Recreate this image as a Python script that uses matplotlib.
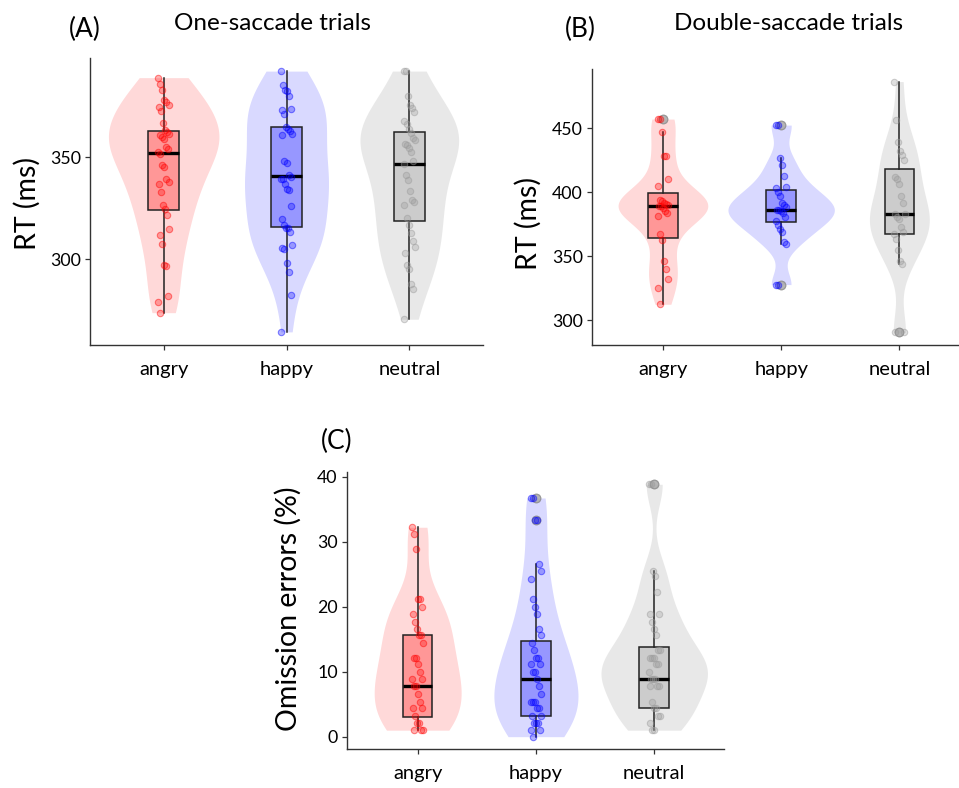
import numpy as np
import matplotlib
matplotlib.use("Agg")
import matplotlib.pyplot as plt

plt.rcParams['font.family'] = ['Lato', 'DejaVu Sans']

categories = ["angry", "happy", "neutral"]

# ---------------- Panel A: One-saccade trials (RT, ms) ----------------
a_angry = [388.8, 385.8, 382.6, 377.7, 376.9, 375.2, 374.4, 372.3, 366.6, 363.0, 362.2, 361.4,
           360.6, 359.8, 359.0, 354.9, 354.1, 352.4, 351.6, 345.9, 345.1, 339.4, 337.8, 337.0,
           332.9, 326.4, 324.8, 321.8, 315.0, 311.7, 307.3, 297.1, 296.6, 282.1, 279.2, 273.9]
a_happy = [392.0, 385.4, 382.9, 382.1, 379.7, 373.7, 372.8, 371.2, 364.7, 363.9, 362.6, 361.4,
           360.6, 347.9, 347.1, 341.1, 340.2, 339.4, 339.1, 337.0, 334.5, 333.7, 325.9, 319.9,
           316.6, 315.5, 315.3, 313.3, 306.8, 305.7, 305.2, 298.4, 293.8, 282.7, 264.5]
a_neutral = [392.0, 392.0, 379.7, 375.3, 374.0, 372.0, 367.6, 366.3, 363.9, 361.9, 359.3, 358.2,
             356.5, 356.1, 354.4, 352.4, 347.9, 346.4, 341.1, 338.6, 333.2, 328.8, 328.0, 326.4,
             320.2, 316.6, 312.9, 308.8, 306.0, 303.3, 297.1, 295.4, 288.1, 285.3, 270.7]
# box stats: whisker low, Q1, median, Q3, whisker high
a_box_angry = [273.9, 324.3, 352.1, 362.5, 388.8]
a_box_happy = [264.5, 315.6, 340.6, 364.5, 392.0]
a_box_neutral = [270.7, 318.7, 346.4, 362.1, 392.0]

# ---------------- Panel B: Double-saccade trials (RT, ms) ----------------
b_angry = [457.2, 457.2, 446.7, 428.0, 428.0, 410.4, 404.7, 394.1, 392.8, 391.8, 391.0, 390.2,
           389.6, 388.9, 387.5, 385.7, 383.5, 381.1, 367.6, 362.4, 346.0, 340.3, 332.5, 325.2, 312.5]
b_happy = [452.5, 452.5, 426.5, 421.3, 413.0, 404.4, 403.1, 400.5, 397.4, 391.7, 390.2, 388.3,
           386.5, 385.9, 385.2, 384.0, 380.5, 377.2, 374.1, 371.5, 368.9, 361.1, 359.3, 327.9, 327.9]
b_neutral = [486.5, 456.4, 439.5, 432.5, 429.4, 425.2, 411.7, 410.4, 406.5, 396.9, 391.4, 383.2,
             383.2, 380.5, 379.3, 372.8, 368.9, 367.6, 363.7, 354.6, 346.3, 344.2, 290.5, 290.5]
b_box_angry = [312.5, 364.5, 388.9, 399.5, 446.7]
b_box_happy = [359.3, 376.6, 386.3, 401.9, 426.5]
b_box_neutral = [344.2, 367.6, 383.2, 418.2, 486.5]

# ---------------- Panel C: Omission errors (%) ----------------
c_angry = [32.2, 31.1, 28.8, 21.1, 21.1, 19.9, 18.8, 17.7, 16.6, 15.6, 15.6, 14.4, 12.1, 12.1,
           11.1, 9.9, 8.8, 8.8, 7.8, 7.8, 6.6, 5.4, 4.4, 4.4, 3.2, 2.1, 2.1, 1.0, 1.0, 1.0]
c_happy = [36.7, 36.7, 33.3, 33.3, 26.6, 25.5, 24.3, 21.1, 19.9, 18.8, 16.6, 15.6, 14.4, 13.3,
           12.1, 12.1, 11.1, 11.1, 9.9, 9.9, 8.8, 7.8, 6.6, 5.4, 5.4, 5.4, 4.4, 4.4, 3.2, 3.2,
           2.1, 2.1, 2.1, 1.0, 1.0, 0.0]
c_neutral = [38.8, 38.8, 25.5, 24.7, 22.2, 18.8, 18.8, 17.7, 16.6, 15.6, 13.3, 13.3, 12.1, 12.1,
             12.1, 11.1, 11.1, 9.9, 8.8, 8.8, 8.8, 7.8, 7.8, 7.8, 5.4, 4.4, 4.4, 3.2, 3.2, 2.1,
             1.0, 1.0]
c_box_angry = [1.0, 3.0, 7.8, 15.6, 32.2]
c_box_happy = [0.0, 3.2, 8.8, 14.7, 26.6]
c_box_neutral = [1.0, 4.4, 8.8, 13.8, 25.5]

colors = ["#FF0000", "#0000FF", "#9A9A9A"]
violin_alpha = [0.15, 0.15, 0.55]
violin_colors = ["#FF0000", "#0000FF", "#D6D6D6"]
box_colors = ["#FF0000", "#0000FF", "#8C8C8C"]

W, H = 959, 788
fig = plt.figure(figsize=(W / 100, H / 100), dpi=100)


def px_axes(left, right, top, bottom):
    return fig.add_axes([left / W, 1 - bottom / H, (right - left) / W, (bottom - top) / H])


def nrd0(x):
    x = np.asarray(x, float)
    hi = np.std(x, ddof=1)
    q75, q25 = np.percentile(x, [75, 25])
    lo = min(hi, (q75 - q25) / 1.34)
    if lo <= 0:
        lo = hi
    return 0.9 * lo * len(x) ** (-0.2)


def draw_panel(ax, groups, boxes, ylim, yticks, xlim):
    pos = np.arange(len(groups))
    # violins (area-scaled, trimmed)
    dens = []
    for d in groups:
        d = np.asarray(d, float)
        bw = nrd0(d)
        ys = np.linspace(d.min(), d.max(), 512)
        k = np.exp(-0.5 * ((ys[:, None] - d[None, :]) / bw) ** 2).sum(1) / (len(d) * bw * np.sqrt(2 * np.pi))
        dens.append((ys, k))
    m = max(k.max() for _, k in dens)
    for (ys, k), p, c, al in zip(dens, pos, violin_colors, violin_alpha):
        w = k / m * 0.45
        ax.fill_betweenx(ys, p - w, p + w, color=c, alpha=al, lw=0, zorder=1)
    # boxplots
    stats = []
    for d, b in zip(groups, boxes):
        d = np.asarray(d, float)
        fl = d[(d < b[0] - 1e-9) | (d > b[4] + 1e-9)]
        stats.append(dict(whislo=b[0], q1=b[1], med=b[2], q3=b[3], whishi=b[4], fliers=fl))
    bp = ax.bxp(stats, positions=pos, widths=0.25, patch_artist=True, showcaps=False,
                boxprops=dict(edgecolor="#222222", linewidth=1.1),
                medianprops=dict(color="black", linewidth=2.4),
                whiskerprops=dict(color="#222222", linewidth=1.1),
                flierprops=dict(marker="o", markerfacecolor="#A8A8A8", markeredgecolor="#8A8A8A",
                                alpha=0.6, markersize=6.2, markeredgewidth=0.8),
                zorder=2)
    for patch, c in zip(bp["boxes"], box_colors):
        patch.set_facecolor(matplotlib.colors.to_rgba(c, 0.3))
    # jittered points
    for p, d, c in zip(pos, groups, colors):
        d = np.asarray(d, float)
        idx = np.arange(len(d))
        off = (((idx * 37) % 17) / 16.0 - 0.5) * 0.09
        ax.plot(p + off, d, linestyle="none", marker="o", markersize=4.6,
                markerfacecolor=matplotlib.colors.to_rgba(c, 0.3),
                markeredgecolor=matplotlib.colors.to_rgba(c, 0.45),
                markeredgewidth=0.8, zorder=3)
    ax.set_xlim(*xlim)
    ax.set_ylim(*ylim)
    ax.set_yticks(yticks)
    ax.set_xticks(pos)
    ax.set_xticklabels(categories)
    for s in ["top", "right"]:
        ax.spines[s].set_visible(False)
    for s in ["left", "bottom"]:
        ax.spines[s].set_color("#333333")
        ax.spines[s].set_linewidth(1.0)
    ax.tick_params(axis="both", colors="#333333", length=3.5, width=0.9, labelcolor="black")
    ax.tick_params(axis="y", labelsize=12.8, pad=3)
    ax.tick_params(axis="x", labelsize=14.5, pad=8)
    ax.set_facecolor("none")


axA = px_axes(90, 483, 58, 345)
draw_panel(axA, [a_angry, a_happy, a_neutral], [a_box_angry, a_box_happy, a_box_neutral],
           (258.1, 398.4), [300, 350], (-0.6, 2.6))

axB = px_axes(592, 958, 69, 345)
draw_panel(axB, [b_angry, b_happy, b_neutral], [b_box_angry, b_box_happy, b_box_neutral],
           (280.7, 496.3), [300, 350, 400, 450], (-0.6, 2.496))

axC = px_axes(346.7, 724, 471.7, 749.3)
draw_panel(axC, [c_angry, c_happy, c_neutral], [c_box_angry, c_box_happy, c_box_neutral],
           (-1.94, 40.74), [0, 10, 20, 30, 40], (-0.6, 2.59))


def ftext(x, y, s, **kw):
    fig.text(x / W, 1 - y / H, s, ha="center", va="center", **kw)


ftext(85, 29, "(A)", fontsize=19)
ftext(272, 24, "One-saccade trials", fontsize=17.5)
ftext(580, 29, "(B)", fontsize=19)
ftext(789, 24, "Double-saccade trials", fontsize=17.5)
ftext(337, 441, "(C)", fontsize=19)
ftext(27, 203, "RT (ms)", fontsize=20.5, rotation=90)
ftext(528, 223, "RT (ms)", fontsize=20.5, rotation=90)
ftext(288, 609, "Omission errors (%)", fontsize=20.5, rotation=90)

fig.savefig("out.png", dpi=100)
